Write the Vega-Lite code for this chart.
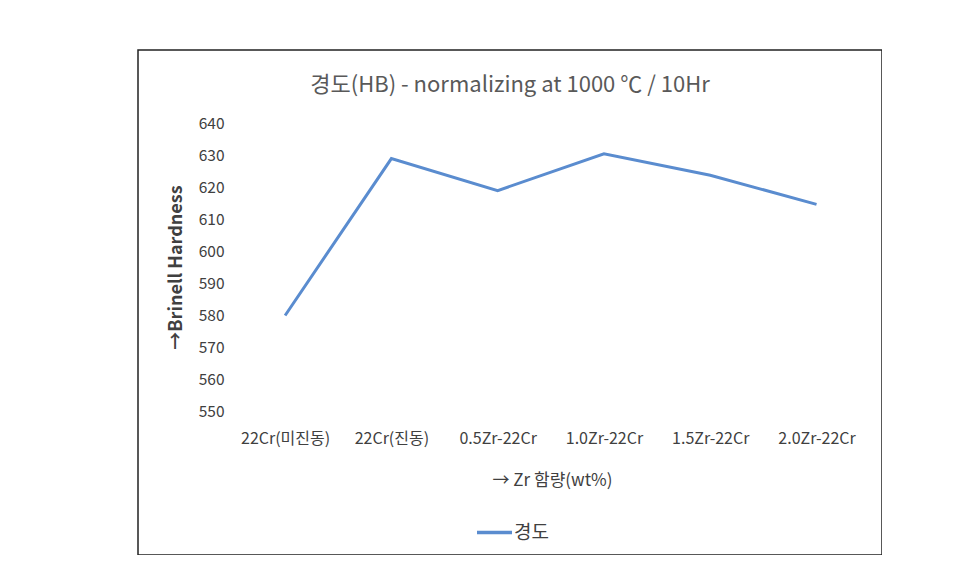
{
  "$schema": "https://vega.github.io/schema/vega-lite/v6.json",
  "width": 744,
  "height": 505,
  "autosize": {"type": "none"},
  "padding": {"left": 138, "top": 50, "right": 0, "bottom": 0},
  "background": "white",
  "title": {
    "text": "경도(HB) - normalizing at 1000 ℃ / 10Hr",
    "anchor": "middle",
    "offset": 0,
    "dy": 47,
    "fontSize": 22,
    "fontWeight": "normal",
    "font": "Noto Sans CJK KR",
    "color": "#595959"
  },
  "config": {
    "view": {"stroke": "#222222", "strokeWidth": 1.5},
    "font": "Noto Sans CJK KR"
  },
  "data": {
    "values": [
      {"sample": "22Cr(미진동)", "order": 1, "hardness": 580, "series": "경도"},
      {"sample": "22Cr(진동)", "order": 2, "hardness": 629, "series": "경도"},
      {"sample": "0.5Zr-22Cr", "order": 3, "hardness": 619, "series": "경도"},
      {"sample": "1.0Zr-22Cr", "order": 4, "hardness": 630.5, "series": "경도"},
      {"sample": "1.5Zr-22Cr", "order": 5, "hardness": 623.8, "series": "경도"},
      {"sample": "2.0Zr-22Cr", "order": 6, "hardness": 614.7, "series": "경도"}
    ]
  },
  "mark": {"type": "line", "strokeWidth": 3},
  "encoding": {
    "x": {
      "field": "sample",
      "type": "ordinal",
      "sort": {"field": "order"},
      "scale": {"type": "point", "padding": 1.056, "align": 0.692},
      "axis": {
        "title": "→ Zr 함량(wt%)",
        "offset": -143,
        "domain": false,
        "ticks": false,
        "grid": false,
        "labelAngle": 0,
        "labelPadding": 18,
        "labelFontSize": 16,
        "labelColor": "#404040",
        "titleFontSize": 17,
        "titleFontWeight": "normal",
        "titleColor": "#404040",
        "titleX": 414,
        "titleY": 68,
        "titleBaseline": "middle"
      }
    },
    "y": {
      "field": "hardness",
      "type": "quantitative",
      "scale": {"domain": [505.2, 662.9], "nice": false, "zero": false},
      "axis": {
        "values": [550, 560, 570, 580, 590, 600, 610, 620, 630, 640],
        "title": "→Brinell Hardness",
        "offset": -88,
        "domain": false,
        "ticks": false,
        "grid": false,
        "labelPadding": 2,
        "labelFontSize": 15.5,
        "labelColor": "#404040",
        "titleFontSize": 18,
        "titleFontWeight": "bold",
        "titleColor": "#404040",
        "titleAngle": 270,
        "titleX": -50,
        "titleY": 217,
        "titleAlign": "center",
        "titleBaseline": "middle"
      }
    },
    "color": {
      "field": "series",
      "type": "nominal",
      "scale": {"range": ["#5a8ccf"]},
      "legend": {
        "title": null,
        "orient": "none",
        "legendX": 337,
        "legendY": 463,
        "symbolType": "stroke",
        "symbolSize": 1225,
        "symbolStrokeWidth": 3.5,
        "labelFontSize": 19,
        "labelColor": "#404040",
        "labelOffset": 0
      }
    }
  }
}
